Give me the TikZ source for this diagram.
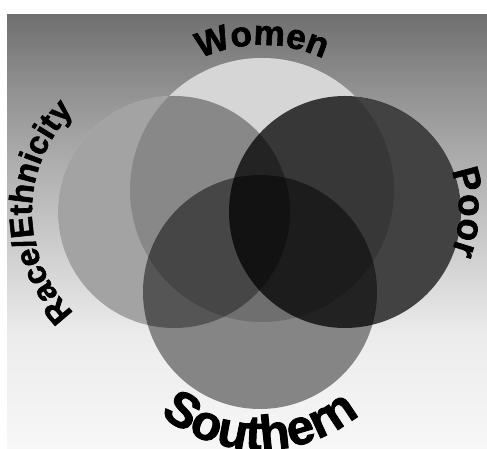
\documentclass[tikz,border=0pt]{standalone}
\usepackage{fontspec}
\setmainfont{Liberation Sans}[BoldFeatures={FakeBold=1.8}]
\usetikzlibrary{decorations.text}
\definecolor{skytop}{RGB}{112,112,112}
\definecolor{skyhigh}{RGB}{150,150,150}
\definecolor{skymid}{RGB}{200,200,200}
\definecolor{skylow}{RGB}{236,236,236}
\definecolor{skyfloor}{RGB}{247,247,247}
\pgfdeclareverticalshading{sky}{100bp}{%
    color(0bp)=(skyfloor); color(25bp)=(skyfloor); color(38bp)=(skylow);
    color(50bp)=(skymid); color(65bp)=(skyhigh); color(75bp)=(skytop);
    color(100bp)=(skytop)}
\tikzset{
    underlay/.style={fill=white},
    venn/.style={fill=black, fill opacity=#1},
    arclabel/.style={
        decorate,
        decoration={text along path, text align=center, text={#1}}
    }
}

\begin{document}
\begin{tikzpicture}[x=0.02cm, y=0.02cm]
\useasboundingbox (0,0) rectangle (487,449);

% Background
\shade[shading=sky] (7,0) rectangle (487,434);

% Set centres
\coordinate (women) at (262,259);
\coordinate (race) at (174,237);
\coordinate (poor) at (345,237);
\coordinate (south) at (260,157);

% White underlay so the sets multiply on white
\fill[underlay] (women) circle[radius=132];
\fill[underlay] (race) circle[radius=116];
\fill[underlay] (poor) circle[radius=116];
\fill[underlay] (south) circle[radius=117];

% Sets
\fill[venn=0.16] (women) circle[radius=132];
\fill[venn=0.36] (race) circle[radius=116];
\fill[venn=0.74] (poor) circle[radius=116];
\fill[venn=0.48] (south) circle[radius=117];

% Labels
\path[arclabel={|\fontsize{20}{21}\selectfont\bfseries|Women}]
    (women) ++(160:145) arc[start angle=160, end angle=20, radius=145];
\path[arclabel={|\fontsize{18.5}{19}\selectfont\bfseries|Race/Ethnicity}]
    (race) ++(240:142) arc[start angle=240, end angle=120, radius=142];
\path[arclabel={|\fontsize{21}{22}\selectfont\bfseries|Poor}]
    (poor) ++(45:114) arc[start angle=45, end angle=-45, radius=114];
\path[arclabel={|\fontsize{28}{29}\selectfont\bfseries|Southern}]
    (south) ++(210:158) arc[start angle=210, end angle=330, radius=158];
\end{tikzpicture}
\end{document}
